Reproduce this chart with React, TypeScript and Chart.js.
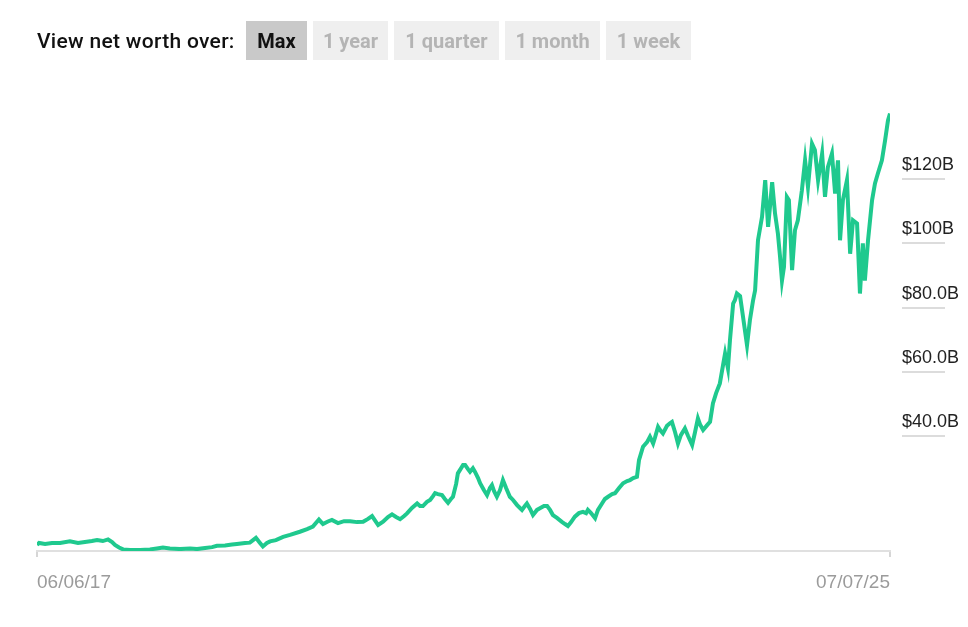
import React, { useEffect, useRef } from 'react';
import { Chart, registerables } from 'chart.js';

Chart.register(...registerables);

const startLabel = '06/06/17';
const endLabel = '07/07/25';
const totalDays = 2953;

// days since 06/06/17
const days = [
  0, 7, 28, 52, 80, 114, 142, 166, 190, 208, 228, 246, 260, 270, 284, 298, 322, 357, 391, 415,
  436, 460, 495, 530, 554, 582, 606, 623, 651, 675, 692, 720, 737, 758, 772, 782, 796, 807, 827, 852,
  876, 910, 935, 955, 976, 990, 1007, 1021, 1042, 1063, 1084, 1108, 1129, 1146, 1160, 1181, 1198, 1215, 1229, 1243,
  1257, 1271, 1281, 1298, 1316, 1326, 1336, 1350, 1361, 1371, 1378, 1388, 1402, 1412, 1423, 1433, 1440, 1451, 1457, 1464,
  1475, 1482, 1492, 1499, 1509, 1516, 1527, 1534, 1547, 1558, 1568, 1575, 1582, 1592, 1603, 1613, 1624, 1637, 1648, 1662,
  1672, 1679, 1689, 1696, 1707, 1717, 1731, 1741, 1755, 1766, 1776, 1786, 1800, 1817, 1828, 1838, 1849, 1862, 1876, 1890,
  1901, 1907, 1918, 1932, 1942, 1956, 1966, 1977, 1991, 2001, 2015, 2029, 2043, 2053, 2064, 2077, 2084, 2098, 2112, 2122,
  2133, 2139, 2150, 2157, 2167, 2181, 2191, 2198, 2209, 2219, 2229, 2243, 2254, 2268, 2278, 2288, 2295, 2306, 2320, 2330,
  2340, 2351, 2364, 2375, 2382, 2392, 2399, 2410, 2416, 2423, 2434, 2441, 2458, 2468, 2479, 2486, 2496, 2510, 2521, 2531,
  2538, 2545, 2555, 2565, 2572, 2579, 2586, 2596, 2603, 2614, 2624, 2634, 2648, 2659, 2669, 2683, 2693, 2704, 2718, 2728,
  2738, 2752, 2763, 2773, 2780, 2790, 2804, 2815, 2825, 2839, 2849, 2859, 2866, 2877, 2891, 2901, 2911, 2925, 2936, 2946,
  2953,
];

// net worth, $B
const netWorth = [
  6.1, 6.7, 6.4, 6.7, 6.7, 7.2, 6.7, 7.0, 7.3, 7.6, 7.3, 7.8, 7.0, 6.1, 5.3, 4.7, 4.5, 4.5, 4.7, 5.0,
  5.3, 5.0, 4.8, 5.0, 4.8, 5.1, 5.4, 5.8, 5.9, 6.2, 6.4, 6.7, 6.8, 8.3, 6.7, 5.6, 6.7, 7.2, 7.6, 8.6,
  9.2, 10.2, 11.0, 11.8, 14.0, 12.6, 13.4, 13.9, 12.9, 13.5, 13.5, 13.2, 13.3, 14.2, 15.1, 12.3, 13.3, 14.8, 15.6, 14.8,
  14.1, 15.1, 15.9, 17.6, 19.0, 18.2, 18.2, 19.5, 20.1, 21.3, 22.2, 21.9, 21.6, 20.4, 19.2, 20.4, 21.1, 25.1, 28.4, 29.4,
  31.0, 31.0, 29.7, 28.9, 30.0, 28.9, 26.9, 25.3, 23.2, 21.6, 23.8, 24.7, 22.9, 21.1, 23.2, 26.3, 23.8, 21.1, 20.1, 18.5,
  17.6, 17.0, 18.2, 19.0, 17.3, 15.4, 17.0, 17.5, 18.2, 18.2, 17.0, 15.4, 14.5, 13.3, 12.6, 12.0, 13.2, 14.9, 16.0, 16.4,
  16.0, 17.0, 16.0, 14.4, 17.0, 19.0, 20.4, 21.1, 21.9, 22.2, 23.8, 25.3, 26.0, 26.3, 26.9, 27.3, 32.5, 36.7, 38.1, 39.8,
  37.7, 39.4, 42.9, 41.9, 40.8, 43.2, 44.0, 44.4, 41.2, 37.7, 40.3, 42.4, 40.0, 37.2, 41.2, 45.5, 43.7, 41.9, 43.4, 44.4,
  50.2, 53.4, 56.4, 62.1, 65.7, 61.1, 69.9, 81.3, 82.3, 84.4, 83.6, 79.2, 68.3, 76.1, 82.3, 85.4, 101.0, 108.3, 119.7, 105.2,
  111.9, 119.1, 109.3, 103.0, 96.2, 88.4, 92.7, 114.5, 113.5, 91.7, 104.1, 107.2, 116.6, 125.9, 117.6, 131.1, 129.1, 119.7, 128.0, 114.5,
  123.8, 128.0, 115.5, 125.9, 101.0, 113.5, 119.7, 96.8, 107.2, 106.2, 84.4, 100.0, 88.4, 101.0, 113.5, 118.7, 121.8, 125.9, 132.1, 138.3,
  140.5,
];

const yTicks = [40, 60, 80, 100, 120];
const periods = ['Max', '1 year', '1 quarter', '1 month', '1 week'];
const periodWidths = [61, 75, 105, 95, 85];

const FONT = '"Liberation Sans", Arial, sans-serif';

const tickLinesPlugin = {
  id: 'tickLines',
  afterDraw(chart: any) {
    const y = chart.scales.y;
    const ctx = chart.ctx;
    ctx.save();
    ctx.strokeStyle = '#dcdcdc';
    ctx.lineWidth = 2;
    y.ticks.forEach((t: any) => {
      const py = Math.round(y.getPixelForValue(t.value));
      ctx.beginPath();
      ctx.moveTo(y.left + 12, py);
      ctx.lineTo(y.left + 55, py);
      ctx.stroke();
    });
    ctx.restore();
  },
};

function NetWorthChart() {
  const ref = useRef<HTMLCanvasElement | null>(null);
  useEffect(() => {
    if (!ref.current) return;
    const chart = new Chart(ref.current, {
      type: 'line',
      data: {
        datasets: [
          {
            data: days.map((d, i) => ({ x: d, y: netWorth[i] })),
            borderColor: '#1fc98e',
            borderWidth: 4,
            pointRadius: 0,
            tension: 0,
            borderJoinStyle: 'miter',
            borderCapStyle: 'butt',
          },
        ],
      },
      options: {
        animation: false,
        responsive: false,
        maintainAspectRatio: false,
        layout: { padding: { left: 37, top: 99, right: 0, bottom: 0 } },
        plugins: { legend: { display: false }, tooltip: { enabled: false } },
        scales: {
          x: {
            type: 'linear',
            min: 0,
            max: totalDays,
            afterBuildTicks: (s: any) => {
              s.ticks = [{ value: 0 }, { value: totalDays }];
            },
            afterFit: (s: any) => {
              s.height = 76;
            },
            ticks: {
              callback: (v: any) => (v === 0 ? startLabel : endLabel),
              align: 'inner',
              maxRotation: 0,
              autoSkip: false,
              padding: 14,
              color: '#9b9b9b',
              font: { family: FONT, size: 19 },
            },
            grid: { drawOnChartArea: false, drawTicks: true, tickLength: 6, tickColor: '#d6d6d6', lineWidth: 2 },
            border: { display: true, color: '#e0e0e0', width: 2 },
          },
          y: {
            position: 'right',
            min: 4.2,
            max: 145,
            afterBuildTicks: (s: any) => {
              s.ticks = yTicks.map((v) => ({ value: v }));
            },
            afterFit: (s: any) => {
              s.width = 78;
            },
            ticks: {
              padding: 12,
              labelOffset: -14,
              color: '#222222',
              font: { family: FONT, size: 18 },
              callback: (v: any) => (v >= 100 ? `$${v}B` : `$${Number(v).toFixed(1)}B`),
            },
            grid: { display: false, drawTicks: false },
            border: { display: false },
          },
        },
      },
      plugins: [tickLinesPlugin],
    } as any);
    return () => chart.destroy();
  }, []);
  return (
    <canvas
      ref={ref}
      width={968}
      height={627}
      style={{ position: 'absolute', left: 0, top: 0, width: 968, height: 627 }}
    />
  );
}

export default function App() {
  return (
    <div style={{ position: 'absolute', left: 0, top: 0, width: 968, height: 627, background: '#fff', overflow: 'hidden' }}>
      <NetWorthChart />
      <div
        style={{
          position: 'absolute',
          left: 37,
          top: 21,
          height: 39,
          display: 'flex',
          alignItems: 'center',
          fontFamily: 'Roboto, "Liberation Sans", sans-serif',
          fontSize: 20,
        }}
      >
        <span style={{ color: '#111', fontWeight: 500, fontSize: 21, letterSpacing: 0.3, width: 209, whiteSpace: 'nowrap' }}>
          View net worth over:
        </span>
        {periods.map((p, i) => (
          <div
            key={p}
            style={{
              width: periodWidths[i],
              height: 39,
              marginRight: 6,
              display: 'flex',
              alignItems: 'center',
              justifyContent: 'center',
              background: i === 0 ? '#c9c9c9' : '#efefef',
              color: i === 0 ? '#111' : '#b4b4b4',
              fontWeight: 700,
              whiteSpace: 'nowrap',
            }}
          >
            {p}
          </div>
        ))}
      </div>
    </div>
  );
}
